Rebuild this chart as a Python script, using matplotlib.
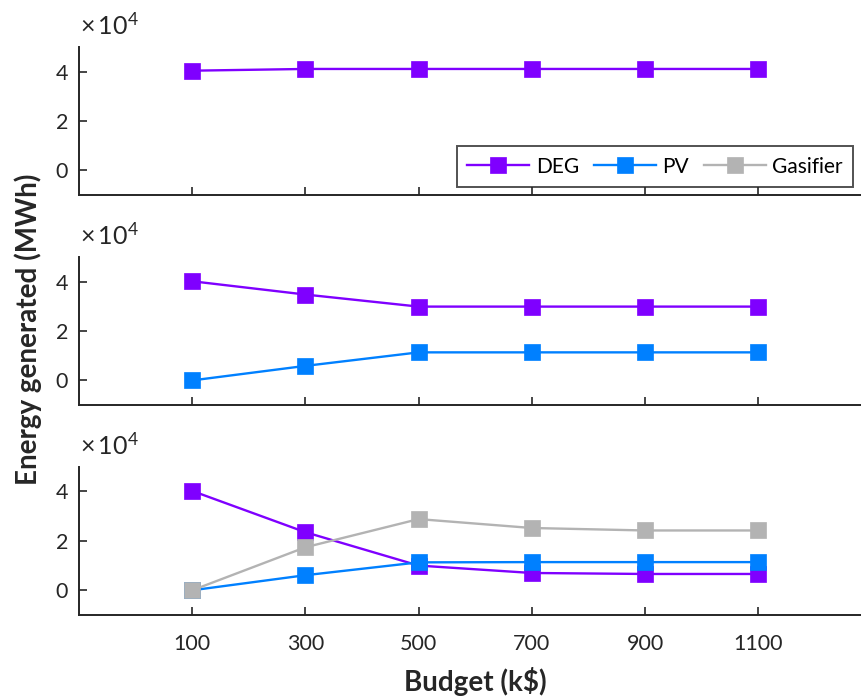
import matplotlib
matplotlib.use("Agg")
import matplotlib.pyplot as plt
from matplotlib.lines import Line2D

plt.rcParams['font.family'] = ['Lato', 'DejaVu Sans']
plt.rcParams['mathtext.fontset'] = 'custom'
plt.rcParams['mathtext.rm'] = 'Lato'
plt.rcParams['mathtext.it'] = 'Lato'
plt.rcParams['mathtext.bf'] = 'Lato:bold'

budget = [100, 300, 500, 700, 900, 1100]
xticks = [100, 300, 500, 700, 900, 1100]
yticks = [0, 20000, 40000]
ytick_labels = ['0', '2', '4']

# Scenario 1: DEG only
deg1 = [40400, 41100, 41100, 41100, 41100, 41100]
# Scenario 2: DEG + PV
deg2 = [40300, 34900, 30000, 30000, 30000, 30000]
pv2 = [0, 5900, 11400, 11400, 11400, 11400]
# Scenario 3: DEG + PV + Gasifier
deg3 = [40200, 23500, 10000, 7000, 6600, 6600]
pv3 = [0, 6100, 11300, 11400, 11400, 11400]
gas3 = [0, 17400, 28800, 25200, 24200, 24200]

c_deg = '#7F00FF'
c_pv = '#0080FF'
c_gas = '#B3B3B3'
axcol = '#262626'

W, H = 861, 698
fig = plt.figure(figsize=(W / 100, H / 100), dpi=100)

left = 79 / W
right = 871.4 / W
panels_px = [(47, 195), (257.4, 405), (466.7, 615)]
axes = []
for top, bot in panels_px:
    ax = fig.add_axes([left, 1 - bot / H, right - left, (bot - top) / H])
    axes.append(ax)

series = [
    [(deg1, c_deg, 'DEG')],
    [(deg2, c_deg, 'DEG'), (pv2, c_pv, 'PV')],
    [(deg3, c_deg, 'DEG'), (pv3, c_pv, 'PV'), (gas3, c_gas, 'Gasifier')],
]

for i, ax in enumerate(axes):
    for vals, col, lab in series[i]:
        ax.plot(budget, vals, '-s', color=col, lw=1.7, ms=11.5,
                markeredgecolor=col, markeredgewidth=0.5, label=lab,
                clip_on=False)
    ax.set_xlim(-100, 1300)
    ax.set_ylim(-10000, 50000)
    ax.set_xticks(xticks)
    ax.set_yticks(yticks)
    ax.set_yticklabels(ytick_labels)
    if i < 2:
        ax.set_xticklabels([])
    else:
        ax.set_xticklabels([str(v) for v in xticks])
    for s in ['top', 'right']:
        ax.spines[s].set_visible(False)
    for s in ['left', 'bottom']:
        ax.spines[s].set_color(axcol)
        ax.spines[s].set_linewidth(1.4)
    ax.tick_params(direction='in', length=6, width=1.2, colors=axcol,
                   labelsize=15.5, pad=8)
    ax.tick_params(axis='x', pad=14)
    ax.annotate(r'$\times\,10^{4}$', xy=(0, 1), xycoords='axes fraction',
                xytext=(1, 9), textcoords='offset points', fontsize=18,
                color=axcol, ha='left', va='baseline')

handles = [Line2D([], [], color=c, marker='s', lw=1.7, ms=11.5,
                  markeredgecolor=c, markeredgewidth=0.5, label=l)
           for c, l in [(c_deg, 'DEG'), (c_pv, 'PV'), (c_gas, 'Gasifier')]]
leg = axes[0].legend(handles=handles, loc='lower right',
                     bbox_to_anchor=(0.977, 0.054), borderaxespad=0,
                     ncol=3, numpoints=1, fontsize=15, frameon=True,
                     fancybox=False, handlelength=3.0, columnspacing=0.7,
                     handletextpad=0.3, borderpad=0.5)
leg.get_frame().set_edgecolor(axcol)
leg.get_frame().set_linewidth(1.4)

fig.text(28 / W, 1 - 329 / H, 'Energy generated (MWh)', rotation=90,
         ha='center', va='center', fontsize=20, fontweight='bold',
         color=axcol)
fig.text(475 / W, 1 - 681 / H, 'Budget (k$)',
         ha='center', va='center', fontsize=20, fontweight='bold',
         color=axcol)

fig.savefig('out.png', dpi=100)
